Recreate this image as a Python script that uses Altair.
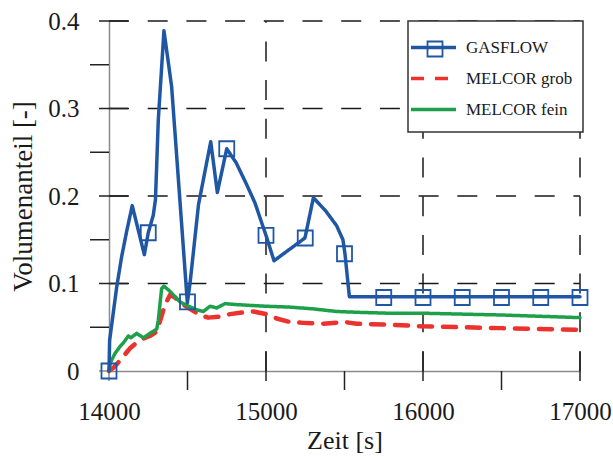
import altair as alt
import pandas as pd

# ---------------- data ----------------
series_names = ["GASFLOW", "MELCOR grob", "MELCOR fein"]
series_colors = ["#1f57a5", "#eb322d", "#1ea04b"]

gas_t = [14000, 14004, 14027, 14049, 14081, 14113, 14148, 14225, 14250, 14282,
         14296, 14314, 14350, 14399, 14499, 14516, 14570, 14648, 14690, 14750,
         14810, 14877, 14930, 14962, 15000, 15051, 15248, 15302, 15380, 15450,
         15490, 15503, 15531, 17000]
gas_v = [0.0, 0.035, 0.066, 0.096, 0.131, 0.160, 0.189, 0.133, 0.158, 0.178,
         0.196, 0.287, 0.389, 0.325, 0.078, 0.100, 0.190, 0.262, 0.204, 0.254,
         0.238, 0.213, 0.192, 0.175, 0.155, 0.126, 0.152, 0.198, 0.183, 0.166,
         0.150, 0.134, 0.085, 0.085]

mark_t = [14000, 14250, 14500, 14750, 15000, 15250, 15500, 15750, 16000,
          16250, 16500, 16750, 17000]
mark_v = [0.0, 0.158, 0.079, 0.254, 0.155, 0.152, 0.134, 0.084, 0.084,
          0.084, 0.084, 0.084, 0.084]

grob_t = [14000, 14030, 14070, 14134, 14180, 14219, 14260, 14304, 14330, 14357,
          14389, 14420, 14463, 14516, 14580, 14632, 14700, 14771, 14850, 14919,
          15004, 15068, 15153, 15238, 15365, 15500, 15577, 15790, 16002, 16500,
          17000]
grob_v = [0.0, 0.004, 0.012, 0.026, 0.033, 0.037, 0.040, 0.045, 0.060, 0.076,
          0.087, 0.084, 0.077, 0.071, 0.064, 0.061, 0.062, 0.065, 0.067, 0.068,
          0.065, 0.060, 0.056, 0.055, 0.054, 0.056, 0.054, 0.053, 0.051, 0.049,
          0.047]

fein_t = [14000, 14010, 14038, 14070, 14091, 14123, 14140, 14176, 14219, 14261,
          14304, 14314, 14335, 14350, 14389, 14452, 14495, 14558, 14601, 14643,
          14686, 14739, 14800, 14898, 15000, 15153, 15300, 15450, 15600, 15790,
          16002, 16500, 17000]
fein_v = [0.0, 0.010, 0.020, 0.028, 0.032, 0.040, 0.038, 0.043, 0.038, 0.043,
          0.048, 0.058, 0.094, 0.097, 0.091, 0.079, 0.075, 0.070, 0.068, 0.074,
          0.072, 0.077, 0.076, 0.075, 0.074, 0.073, 0.071, 0.068, 0.067, 0.066,
          0.066, 0.064, 0.061]

x_labels = [14000, 15000, 16000, 17000]
x_major = [15000, 16000, 17000]
x_minor = [14500, 15500, 16500]
y_labels = [0, 0.1, 0.2, 0.3, 0.4]
y_major = [0.1, 0.2, 0.3, 0.4]
y_minor = [0.05, 0.15, 0.25, 0.35]
x_grid = [15000, 16000, 17000]
y_grid = [0.1, 0.2, 0.3, 0.4]

# ---------------- chart ----------------
W, H = 471, 350
FONT = "Liberation Serif"
TXT = "#1a1a1a"

xs = alt.Scale(domain=[14000, 17000], nice=False, zero=False)
ys = alt.Scale(domain=[0, 0.4], nice=False, zero=False)

xaxis = alt.Axis(values=x_labels, format="d", ticks=False, tickSize=0, grid=False,
                 domainColor="#8a8a8a", domainWidth=1.5, labelFont=FONT,
                 labelFontSize=25, labelColor=TXT, labelPadding=40,
                 labelBaseline="middle", labelFlush=False, labelOverlap=False,
                 title="Zeit [s]", titleFont=FONT, titleFontSize=26,
                 titleFontWeight="normal", titleColor=TXT, titleX=W / 2,
                 titleY=69, titleBaseline="middle", titleAlign="center")
yaxis = alt.Axis(values=y_labels, format=".1~f", ticks=False, tickSize=0, grid=False,
                 domainColor="#8a8a8a", domainWidth=1.5, labelFont=FONT,
                 labelFontSize=25, labelColor=TXT, labelPadding=30,
                 labelBaseline="middle", labelFlush=False, labelOverlap=False,
                 title="Volumenanteil [-]", titleFont=FONT, titleFontSize=27,
                 titleFontWeight="normal", titleColor=TXT, titleAngle=270,
                 titleX=-86, titleY=H / 2, titleBaseline="middle",
                 titleAlign="center")

X = lambda: alt.X("t:Q", scale=xs, axis=xaxis)
Y = lambda: alt.Y("v:Q", scale=ys, axis=yaxis)

cscale = alt.Scale(domain=series_names, range=series_colors)
dscale = alt.Scale(domain=series_names, range=[[1, 0], [13, 11], [1, 0]])

leg = alt.Legend(orient="none", legendX=315, legendY=17, title=None,
                 symbolType="M-3,0H3", symbolSize=225, symbolStrokeWidth=3.5,
                 labelFont=FONT, labelFontSize=17, labelColor=TXT,
                 labelOffset=23, rowPadding=13, padding=0, symbolOffset=0)
pleg = alt.Legend(orient="none", legendX=317.5, legendY=19.5, title=None,
                  symbolType="square", symbolSize=225, symbolStrokeWidth=1.8,
                  symbolStrokeColor=series_colors[0],
                  symbolFillColor="transparent", labelExpr="''",
                  labelFontSize=1, padding=0)

def tdf(vals):
    return pd.DataFrame({"t": vals})

def vdf(vals):
    return pd.DataFrame({"v": vals})

grid_y = alt.Chart(vdf(y_grid)).mark_rule(color=TXT, strokeWidth=1.5, strokeDash=[20, 18.7]).encode(
    y=Y(), x=alt.value(0), x2=alt.value(W))
grid_x = alt.Chart(tdf(x_grid)).mark_rule(color=TXT, strokeWidth=1.5, strokeDash=[20, 18.7]).encode(
    x=X(), y=alt.value(H), y2=alt.value(0))

frame = alt.Chart(pd.DataFrame({"a": [0]})).mark_rect(
    fill="white", stroke="#333333", strokeWidth=1.5).encode(
    x=alt.value(299), x2=alt.value(474), y=alt.value(0), y2=alt.value(111))

tick_xM = alt.Chart(tdf(x_major)).mark_rule(color="#222222", strokeWidth=1.5).encode(
    x=X(), y=alt.value(H - 19), y2=alt.value(H + 10))
tick_xm = alt.Chart(tdf(x_minor)).mark_rule(color="#222222", strokeWidth=1.5).encode(
    x=X(), y=alt.value(H), y2=alt.value(H + 19))
tick_x0 = alt.Chart(tdf([14000])).mark_rule(color="#8a8a8a", strokeWidth=1.5).encode(
    x=X(), y=alt.value(H), y2=alt.value(H + 10))
tick_yM = alt.Chart(vdf(y_major)).mark_rule(color="#222222", strokeWidth=1.5).encode(
    y=Y(), x=alt.value(-10), x2=alt.value(19))
tick_ym = alt.Chart(vdf(y_minor)).mark_rule(color="#222222", strokeWidth=1.5).encode(
    y=Y(), x=alt.value(-19), x2=alt.value(0))
tick_y0 = alt.Chart(vdf([0])).mark_rule(color="#8a8a8a", strokeWidth=1.5).encode(
    y=Y(), x=alt.value(-10), x2=alt.value(0))

def line_layer(ts, vs, name, width):
    df = pd.DataFrame({"t": ts, "v": vs, "series": name})
    return alt.Chart(df).mark_line(strokeWidth=width, strokeCap="round",
                                   strokeJoin="round").encode(
        x=X(), y=Y(),
        color=alt.Color("series:N", scale=cscale, legend=leg),
        strokeDash=alt.StrokeDash("series:N", scale=dscale, legend=leg),
    )

red = line_layer(grob_t, grob_v, "MELCOR grob", 4.5)
green = line_layer(fein_t, fein_v, "MELCOR fein", 3.5)
blue = line_layer(gas_t, gas_v, "GASFLOW", 3.5)

marks = alt.Chart(pd.DataFrame({"t": mark_t, "v": mark_v, "mk": "GASFLOW"})).mark_point(
    filled=False, size=225, strokeWidth=1.8, color=series_colors[0], opacity=1).encode(
    x=X(), y=Y(),
    shape=alt.Shape("mk:N", scale=alt.Scale(domain=["GASFLOW"], range=["square"]), legend=pleg),
)

chart = alt.layer(
    grid_y, grid_x, frame, tick_xM, tick_xm, tick_x0, tick_yM, tick_ym, tick_y0,
    red, green, blue, marks
).properties(
    width=W, height=H,
    autosize=alt.AutoSizeParams(type="none"),
    padding={"left": 109, "top": 21, "right": 33, "bottom": 88},
    background="white",
).configure_view(stroke=None)

chart.save("out.html", embed_options={"renderer": "svg", "actions": False})
